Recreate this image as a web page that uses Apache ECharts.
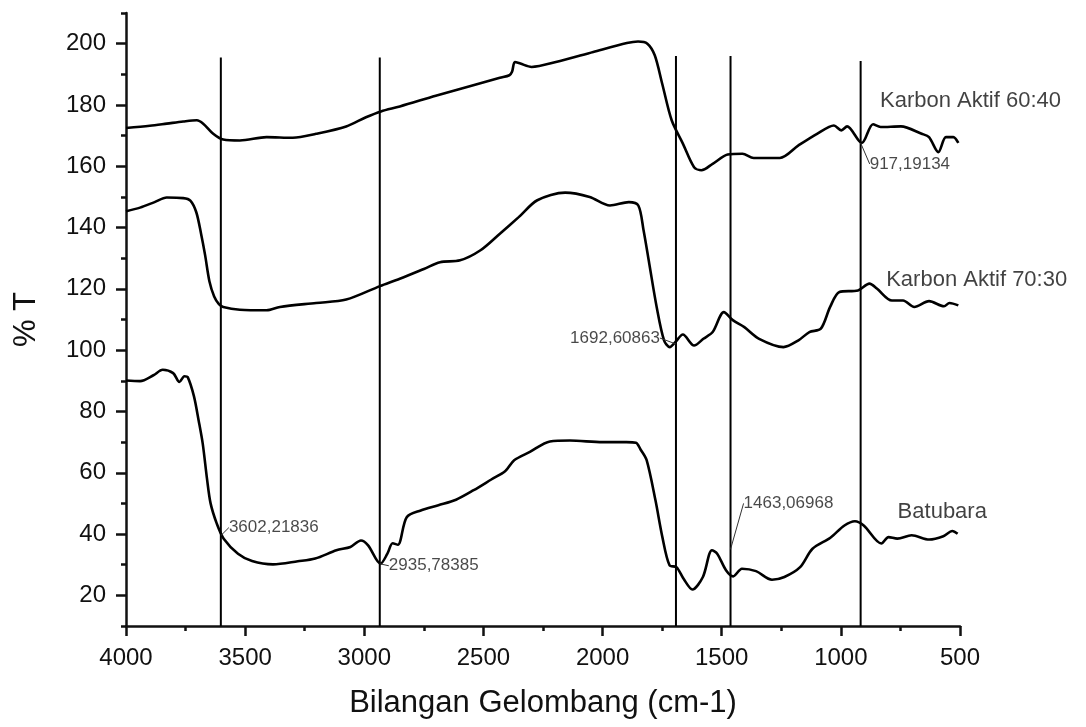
<!DOCTYPE html>
<html>
<head>
<meta charset="utf-8">
<script src="https://cdn.jsdelivr.net/npm/echarts@6/dist/echarts.min.js"></script>
<style>
html,body{margin:0;padding:0;background:#fff;}
#chart{width:1086px;height:727px;}
</style>
</head>
<body>
<div id="chart"></div>
<script>
// ---- data (wavenumber cm-1, %T) ----
var karbon6040 = [
[4000,172.5],[3900,173.2],[3829,173.9],[3760,174.6],[3703,175],[3676,173.9],[3634,170.6],[3592,168.7],[3522,168.4],[3410,169.5],[3300,169.3],[3202,170.6],[3076,173],[2993,176],[2930,177.9],[2851,179.5],[2700,183],[2550,186.3],[2431,188.9],[2391,189.7],[2380,190.8],[2368,194],[2345,193.5],[2298,192.4],[2196,194],[2039,197.3],[1898,200.2],[1851,200.7],[1812,200],[1781,196.2],[1750,187],[1710,175],[1663,167.4],[1616,159.7],[1585,158.7],[1538,160.8],[1475,163.8],[1413,164.1],[1366,162.7],[1256,162.7],[1178,166.8],[1100,170.6],[1029,173.3],[998,171.7],[974,173],[912,167.6],[865,173.7],[833,172.8],[748,173],[661,170.6],[630,169.5],[591,164.6],[559,169.5],[528,169.5],[507,167.6]
];
var karbon7030 = [
[4000,145.3],[3941,146.5],[3880,148.3],[3829,149.8],[3760,149.6],[3730,148.8],[3705,145],[3685,138],[3668,131],[3650,122.5],[3630,117.5],[3610,115],[3592,114.1],[3522,113.2],[3410,113],[3354,114.1],[3202,115.4],[3076,116.5],[2934,120.9],[2851,123.3],[2750,126.5],[2682,128.7],[2598,129.3],[2514,132.5],[2431,138],[2352,143.4],[2274,148.9],[2157,151.4],[2054,150],[1969,147.2],[1890,148.3],[1850,147.2],[1828,139.1],[1804,128.2],[1773,114.1],[1742,103.2],[1718,101],[1695,102.6],[1663,105.1],[1616,101.5],[1577,103.7],[1538,105.9],[1491,112.4],[1452,109.7],[1405,107.5],[1343,103.7],[1241,101],[1178,103.2],[1132,105.9],[1084,107],[1045,114.1],[1006,119],[928,119.5],[880,121.7],[849,120.1],[786,116.2],[739,116.2],[692,114.1],[630,116],[567,114.3],[544,115.4],[507,114.6]
];
var batubara = [
[4000,90.1],[3941,89.9],[3885,91.8],[3846,93.6],[3802,92.5],[3776,89.6],[3755,91.5],[3741,91.2],[3715,85],[3695,77],[3678,69.5],[3660,58],[3645,50],[3619,43.4],[3590,38.5],[3530,33.6],[3471,31.2],[3383,30.1],[3279,31.1],[3206,32],[3117,34.7],[3058,35.8],[3014,37.9],[2984,36.3],[2932,30.3],[2903,33.6],[2881,37],[2859,36.5],[2822,45.5],[2763,47.7],[2689,49.4],[2615,51.2],[2541,54.3],[2467,57.8],[2408,60.6],[2371,64.1],[2305,66.8],[2221,70.2],[2137,70.5],[2000,70],[1900,70],[1860,69.8],[1840,67.5],[1815,64.1],[1778,51],[1749,39],[1719,29.8],[1690,29.2],[1660,25.4],[1623,21.9],[1579,26],[1541,34.7],[1519,33.6],[1482,28.2],[1452,26.2],[1415,28.7],[1356,27.9],[1289,25.1],[1237,26],[1171,29.2],[1119,35.2],[1044,38.8],[985,42.8],[941,44.2],[904,42.8],[830,36.9],[800,39],[763,38.5],[703,39.6],[629,38.2],[570,39.3],[532,41],[510,40.1]
];
// vertical marker lines
var vLineX = [3602, 2935, 1692, 1463, 917];
var vLineTop = [195.5, 195.5, 196, 196, 194.3];
// peak annotations
var peakX = [3602, 2935, 1692, 1463, 917];
var peakY = [39.5, 30.3, 102, 35, 167.6];
var peakText = ['3602,21836', '2935,78385', '1692,60863', '1463,06968', '917,19134'];
// series name labels
var nameText = ['Karbon Aktif 60:40', 'Karbon Aktif 70:30', 'Batubara'];
var nameX = [836, 810, 762];
var nameY = [181.2, 122.8, 47.2];
// axis ticks
var yLabelVals = [20, 40, 60, 80, 100, 120, 140, 160, 180, 200];
var yMinorVals = [10, 30, 50, 70, 90, 110, 130, 150, 170, 190, 210];

var FONT = 'Liberation Sans, Arial, Helvetica, sans-serif';
var chart = echarts.init(document.getElementById('chart'));

var series = [];
function spectrum(name, data) {
  return {
    name: name, type: 'line', data: data, showSymbol: false, symbol: 'none',
    smooth: 0.3, lineStyle: { color: '#000', width: 2.6 }, z: 3, silent: true
  };
}
series.push(spectrum('Karbon Aktif 60:40', karbon6040));
series.push(spectrum('Karbon Aktif 70:30', karbon7030));
series.push(spectrum('Batubara', batubara));

vLineX.forEach(function (x, i) {
  series.push({
    type: 'line', data: [[x, 10], [x, vLineTop[i]]], symbol: 'none',
    lineStyle: { color: '#000', width: 2 }, z: 2, silent: true
  });
});

var peakOffsets = [[6, -8], [7, 2], [-14, -6], [11, -46], [7, 21]];
series.push({
  type: 'scatter', symbolSize: 0.1, silent: true, z: 5,
  data: peakX.map(function (x, i) {
    var item = { value: [x, peakY[i]], name: peakText[i] };
    if (i === 2) { item.label = { position: 'left' }; }
    return item;
  }),
  label: {
    show: true, formatter: '{b}', fontFamily: FONT, fontSize: 17, color: '#1a1a1a',
    position: 'right', distance: 2
  },
  labelLayout: function (p) {
    var o = peakOffsets[p.dataIndex];
    return { dx: o[0], dy: o[1] };
  },
  labelLine: { show: true, lineStyle: { color: '#333', width: 1 } }
});

series.push({
  type: 'scatter', symbolSize: 0.1, silent: true, z: 5,
  data: nameX.map(function (x, i) { return { value: [x, nameY[i]], name: nameText[i] }; }),
  label: {
    show: true, formatter: '{b}', fontFamily: FONT, fontSize: 22, color: '#111',
    position: 'right', distance: 0
  }
});

chart.setOption({
  animation: false,
  backgroundColor: '#fff',
  grid: { left: 126, right: 126, top: 13, bottom: 101 },
  xAxis: {
    type: 'value', min: 500, max: 4000, interval: 500, inverse: true,
    name: 'Bilangan Gelombang (cm-1)', nameLocation: 'middle', nameGap: 62,
    nameTextStyle: { fontFamily: FONT, fontSize: 31, color: '#111' },
    axisLine: { show: true, onZero: false, lineStyle: { color: '#111', width: 2.5 } },
    axisTick: { show: true, length: 10, lineStyle: { color: '#111', width: 2.5 } },
    minorTick: { show: true, splitNumber: 2, length: 5, lineStyle: { color: '#111', width: 2.5 } },
    axisLabel: { fontFamily: FONT, fontSize: 24, color: '#111', margin: 20,
      formatter: function (v) { return String(v); } },
    splitLine: { show: false }
  },
  yAxis: [{
    type: 'value', min: 10, max: 210,
    name: '% T', nameLocation: 'middle', nameGap: 84,
    nameTextStyle: { fontFamily: FONT, fontSize: 31, color: '#111' },
    axisLine: { show: true, onZero: false, lineStyle: { color: '#111', width: 2.5 } },
    axisTick: { show: true, length: 10, customValues: yLabelVals, lineStyle: { color: '#111', width: 2.5 } },
    axisLabel: { fontFamily: FONT, fontSize: 24, color: '#111', margin: 20, customValues: yLabelVals,
      formatter: function (v) { return String(v); } },
    splitLine: { show: false }
  }, {
    type: 'value', min: 10, max: 210, position: 'left',
    axisLine: { show: false },
    axisTick: { show: true, length: 5, customValues: yMinorVals, lineStyle: { color: '#111', width: 2.5 } },
    axisLabel: { show: false },
    splitLine: { show: false }
  }],
  series: series
});
</script>
</body>
</html>
